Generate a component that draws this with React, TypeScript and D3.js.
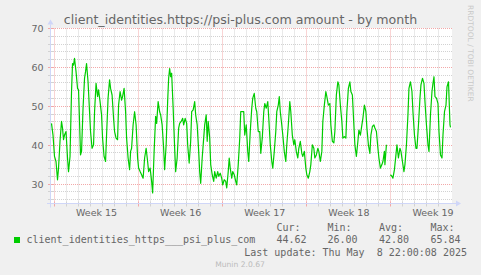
import React from "react";
import * as d3 from "d3";

// ---- data ----
const title = "client_identities.https://psi-plus.com amount - by month";
const T0 = Date.UTC(2025, 3, 5, 17, 0, 0); // first sample time reference
const DOMAIN_START = Date.UTC(2025, 3, 5, 17, 0, 0);
const DOMAIN_END = Date.UTC(2025, 4, 9, 0, 0, 0);

// hours since T0
const hours = [
  1, 4, 7, 10, 13, 15, 18, 21, 23, 25, 27, 30, 33, 35, 38, 41, 43, 45, 47, 50, 53, 55, 57, 59, 61, 64, 67, 69, 71, 74, 77, 79, 82, 85, 87, 90, 93, 95, 98, 101, 103, 106, 109, 111, 114, 117, 119, 122, 125, 127, 130, 133, 135, 138, 141, 143, 146, 149, 151, 154, 157, 159,
  161, 164, 167, 170, 173, 175, 178, 181, 184, 187, 190, 193, 195, 198, 201, 203, 206, 209, 211, 214, 217, 219, 222, 225, 227, 230, 233, 235, 237, 239, 241, 244, 247, 249, 252, 255, 257, 260, 263, 265, 268, 271, 273, 276, 279, 281, 284, 287, 289, 292, 295, 297, 299, 302, 305, 307, 310, 312, 314, 317, 319, 322,
  325, 327, 330, 333, 335, 338, 341, 343, 346, 349, 351, 354, 356, 358, 361, 363, 366, 369, 371, 374, 377, 379, 382, 385, 387, 390, 393, 395, 398, 401, 403, 406, 409, 411, 414, 417, 419, 422, 425, 427, 430, 433, 435, 438, 441, 443, 446, 449, 451, 454, 456, 458, 461, 463, 466, 469, 471, 474, 477,
  479, 482, 485, 487, 490, 493, 495, 498, 501, 503, 506, 509, 511, 514, 517, 519, 522, 525, 527, 530, 533, 535, 538, 541, 543, 546, 549, 551, 554, 557, 559, 562, 565, 567, 570, 573, 575, 578, 581, 583, 586, 589, 591, 594, 597, 599, 602, 605, 607, 610, 613, 615, 618, 621, 623, 626, 629, 631, 634, 637, 639,
  642, 645, 647, 650, 653, 655, 658, 661, 663, 666, 667, 670, 674, 678, 681, 683, 686, 689, 691, 694, 697, 699, 702, 705, 707, 710, 713, 715, 718, 721, 723, 726, 729, 731, 734, 737, 739, 742, 745, 747, 750, 753, 755, 758, 761, 763, 765, 767, 770, 773, 775, 778, 781, 783, 786, 789, 791, 794, 797, 798,
];

const values: (number | null)[] = [
  45.6, 42.6, 37.1, 35.8, 31.1, 34, 41, 46.1, 44.4, 41.4, 42.6, 43.5, 36.7, 33.2, 37.1, 53.8, 61, 60.6, 62.3, 58.9, 54.6, 54.2, 46.1, 37.5, 38.4, 49.5, 57.2, 58.9, 61, 56.3, 48.6, 43.5, 39.2, 40.1, 48.6, 55.9, 52.5, 54.2, 51.2, 47.8, 41.8, 37.1, 35.8, 42.6, 52.1, 56.8, 54.6, 52.9, 46.9, 43.5, 41.8, 41.4, 50.3, 53.8, 51.6, 52.5, 54.6, 48.6, 41.8, 36.7, 33.7, 38.4,
  39.2, 45.2, 48.6, 45.2, 36.7, 34.1, 33.2, 32.4, 31.5, 36.7, 39.2, 35.8, 33.2, 34.1, 30.7, 27.7, 38.4, 47.4, 45.6, 51.2, 48.6, 47.8, 45.2, 39.2, 33.7, 40.1, 51.2, 57.2, 59.7, 57.6, 58.5, 49.5, 39.2, 33.2, 36.7, 44.4, 45.6, 46.1, 46.9, 45.2, 46.9, 45.6, 40.1, 35.4, 41, 48.6, 49.1, 51.2, 47.8, 45.2, 38.4, 33.2, 30.2, 36.7, 41.8, 45.2, 47.8, 41, 46.1, 41.8, 35, 32.4,
  30.7, 33.2, 31.5, 33.2, 32, 32.8, 31.5, 29.8, 31.1, 30.7, 29, 33.2, 36.7, 34.1, 31.5, 33.2, 32.4, 30.7, 29.8, 35, 41.8, 48.6, 48.6, 48.6, 42.6, 45.2, 38.4, 35.8, 43.5, 49.5, 52.1, 53.3, 49.5, 48.6, 43.5, 43.5, 37.9, 41.8, 48.6, 50.7, 49.5, 51.2, 46.9, 40.1, 35.8, 34.1, 38.4, 43.5, 48.6, 50.3, 52.5, 48.6, 45.2, 42.6, 38.4, 35.8, 40.1, 45.2, 51.2,
  48.6, 42.6, 40.1, 41.4, 38.4, 36.7, 39.2, 41, 37.9, 37.1, 38.4, 34.1, 32.4, 31.5, 33.2, 35, 40.1, 39.2, 36.7, 37.5, 39.2, 38.4, 35.8, 38.4, 46.1, 50.3, 53.8, 52.5, 50.3, 50.7, 45.2, 41, 40.6, 43.5, 52.9, 56.3, 55.5, 50.3, 46.1, 41.8, 42.2, 41.8, 48.6, 54.6, 56.3, 53.8, 52.9, 45.2, 40.1, 37.1, 41, 43.9, 42.6, 45.2, 46.9, 50.3, 48.6, 44.4, 40.1, 37.9, 42.6,
  44.8, 45.2, 44.4, 43.5, 39.2, 36.7, 34.1, 35, 35.8, 38.4, 35, 40.1, null, 32.4, 32, 31.5, 33.7, 37.5, 40.1, 36.7, 39.2, 38.4, 35.8, 33.2, 35, 40.1, 47.8, 54.6, 56.3, 53.8, 48.6, 42.6, 39.2, 39.2, 45.2, 52.1, 55.5, 57.2, 55.9, 51.2, 45.2, 40.1, 38.4, 47.8, 53.8, 55.9, 57.6, 52.5, 52.1, 50.7, 43.5, 37.5, 36.7, 42.6, 48.6, 50.3, 55, 56.3, 45.2, 44.6,
];

const yTicks = [30, 40, 50, 60, 70];
const yDomain = [25, 70];
const yMinorStep = 2;
const weekLabels = ["Week 15", "Week 16", "Week 17", "Week 18", "Week 19"];
const seriesName = "client_identities_https___psi_plus_com";
const statHeaders = ["Cur:", "Min:", "Avg:", "Max:"];
const statValues = ["44.62", "26.00", "42.80", "65.84"];
const lastUpdate = "Last update: Thu May  8 22:00:08 2025";
const version = "Munin 2.0.67";
const sideText = "RRDTOOL / TOBI OETIKER";

// ---- layout ----
const W = 481;
const H = 275;
const PL = 51;
const PR = 451;
const PT = 28.5;
const PB = 203.5;

const LINE = "#00CC00";
const FONT = "#666666";
const AXIS = "#CFD6F8";
const GRID = "#D2D2D2";
const MGRID = "#F2A8A8";

export default function App() {
  const x = d3.scaleUtc().domain([new Date(DOMAIN_START), new Date(DOMAIN_END)]).range([PL, PR]);
  const y = d3.scaleLinear().domain(yDomain).range([PB, PT]);

  const pts = hours.map((h, i) => ({ t: new Date(T0 + h * 3600e3), v: values[i] }));
  const line = d3
    .line<{ t: Date; v: number | null }>()
    .defined((d) => d.v != null)
    .x((d) => x(d.t))
    .y((d) => y(d.v as number));

  const days = d3.utcDay.range(x.domain()[0], x.domain()[1]);
  const sundays = d3.utcSunday.range(x.domain()[0], x.domain()[1]);
  const isSunday = (d: Date) => d.getUTCDay() === 0;

  const minorY = d3.range(yDomain[0] + 1, yDomain[1] + 0.001, yMinorStep).filter((v) => v % 10 !== 0);
  const px = (v: number) => Math.floor(v) + 0.5;

  const mono = "'DejaVu Sans Mono', monospace";
  const sans = "'DejaVu Sans', sans-serif";
  const statX = [276.5, 327.5, 379, 430.5];

  return (
    <svg width={W} height={H} style={{ position: "fixed", left: 0, top: 0, display: "block" }}>
      <rect x={0} y={0} width={W} height={H} fill="#F0F0F0" />
      <rect x={PL} y={PT - 0.5} width={PR - PL + 1} height={PB - PT + 0.5} fill="#FFFFFF" />

      {/* minor grid */}
      {minorY.map((v) => (
        <line key={"hy" + v} x1={PL} x2={PR + 1} y1={px(y(v))} y2={px(y(v))} stroke={GRID} strokeDasharray="1,1" />
      ))}
      {days.filter((d) => !isSunday(d)).map((d) => (
        <line key={"vx" + +d} x1={px(x(d))} x2={px(x(d))} y1={PT} y2={PB} stroke={GRID} strokeDasharray="1,1" />
      ))}
      {/* major grid */}
      {yTicks.map((v) => (
        <line key={"my" + v} x1={PL} x2={PR + 1} y1={px(y(v))} y2={px(y(v))} stroke={MGRID} strokeDasharray="1,1" />
      ))}
      {sundays.map((d) => (
        <line key={"mx" + +d} x1={px(x(d))} x2={px(x(d))} y1={PT} y2={PB} stroke={MGRID} strokeDasharray="1,1" />
      ))}

      {/* axis ticks */}
      {days.map((d) => (
        <line key={"tx" + +d} x1={px(x(d))} x2={px(x(d))} y1={PB - 2} y2={PB + 3} stroke={isSunday(d) ? MGRID : GRID} />
      ))}
      {minorY.concat(yTicks).map((v) => (
        <line key={"ty" + v} x1={PL - 3} x2={PL + 2} y1={px(y(v))} y2={px(y(v))} stroke={yTicks.includes(v) ? MGRID : GRID} />
      ))}

      {/* axes */}
      <line x1={PL - 4} x2={PR + 5} y1={PB} y2={PB} stroke={AXIS} />
      <path d={`M${PR + 5},${PB - 3}L${PR + 10},${PB}L${PR + 5},${PB + 3}Z`} fill={AXIS} />
      <line x1={PL - 0.5} x2={PL - 0.5} y1={PB + 4} y2={PT - 4} stroke={AXIS} />
      <path d={`M${PL - 3.5},${PT - 4}L${PL - 0.5},${PT - 9}L${PL + 2.5},${PT - 4}Z`} fill={AXIS} />

      {/* data */}
      <path d={line(pts) || ""} fill="none" stroke={LINE} strokeWidth={1.2} strokeLinejoin="round" />

      {/* y labels */}
      {yTicks.map((v) => (
        <text key={"yl" + v} x={43.5} y={y(v) + 3.5} textAnchor="end" fontFamily={sans} fontSize={9.5} fill={FONT}>
          {v}
        </text>
      ))}
      {/* x labels */}
      {sundays.map((d, i) => (
        <text
          key={"xl" + +d}
          x={x(new Date(+d + 3.5 * 86400e3))}
          y={216}
          textAnchor="middle"
          fontFamily={sans}
          fontSize={9.5}
          fill={FONT}
        >
          {weekLabels[i]}
        </text>
      ))}

      {/* title */}
      <text x={240.5} y={23.5} textAnchor="middle" fontFamily={sans} fontSize={12.6} fill={FONT}>
        {title}
      </text>

      {/* side text */}
      <text
        transform={`translate(468,5) rotate(90)`}
        fontFamily={sans}
        fontSize={7.5}
        fill="#C8C8C8"
      >
        {sideText}
      </text>

      {/* legend */}
      <rect x={14} y={237} width={6} height={6} fill={LINE} />
      <text x={26.5} y={243.3} fontFamily={mono} fontSize={10} fill={FONT}>
        {seriesName}
      </text>
      {statHeaders.map((s, i) => (
        <text key={"sh" + i} x={statX[i]} y={230.7} fontFamily={mono} fontSize={10} fill={FONT}>
          {s}
        </text>
      ))}
      {statValues.map((s, i) => (
        <text key={"sv" + i} x={statX[i]} y={243.3} fontFamily={mono} fontSize={10} fill={FONT}>
          {s}
        </text>
      ))}
      <text x={467} y={255.5} textAnchor="end" fontFamily={mono} fontSize={10} fill={FONT} style={{ whiteSpace: "pre" }}>
        {lastUpdate}
      </text>
      <text x={240} y={266.5} textAnchor="middle" fontFamily={sans} fontSize={7.6} fill="#BBBBBB">
        {version}
      </text>
    </svg>
  );
}
